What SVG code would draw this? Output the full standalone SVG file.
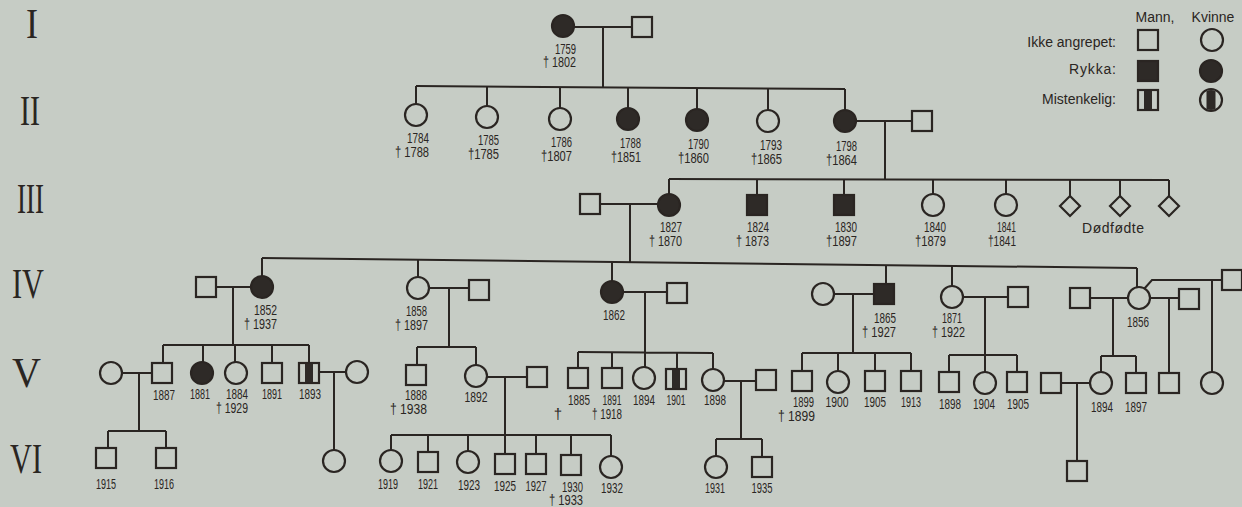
<svg xmlns="http://www.w3.org/2000/svg" width="1242" height="507" viewBox="0 0 1242 507">
<style>
.ln{fill:none;stroke:#2a2522;stroke-width:2}
.o{fill:#c6ccc5;stroke:#2a2522;stroke-width:2.2}
.f{fill:#2e2a27;stroke:#2a2522;stroke-width:2.2}
.k{fill:#2e2a27}
.t{font-family:"Liberation Sans",Arial,sans-serif;font-size:15px;fill:#2a2522}
.lg{font-family:"Liberation Sans",Arial,sans-serif;font-size:14px;fill:#2a2522}
.e{text-anchor:end}
.m{text-anchor:middle}
.r{font-family:"Liberation Serif",serif;font-size:42px;fill:#2a2522}
</style>
<defs>
<rect id="sq" x="-10" y="-10" width="20" height="20" class="o"/>
<rect id="sqf" x="-10" y="-10" width="20" height="20" class="f"/>
<circle id="ci" r="11" class="o"/>
<circle id="cif" r="11" class="f"/>
<path id="dm" d="M0,-10 L10,0 L0,10 L-10,0 Z" class="o"/>
<g id="sqm"><rect x="-10" y="-10" width="20" height="20" class="o"/><rect x="-4" y="-9" width="8" height="18" class="k"/></g>
<g id="cim"><circle r="11" class="o"/><path d="M-4.5,-8.9 A10,10 0 0 1 4.5,-8.9 V8.9 A10,10 0 0 1 -4.5,8.9 Z" class="k"/></g>
</defs>
<rect width="1242" height="507" fill="#c6ccc5"/>

<g id="generations">
<text class="r" x="26" y="38" textLength="12" lengthAdjust="spacingAndGlyphs">I</text>
<text class="r" x="20" y="125" textLength="20" lengthAdjust="spacingAndGlyphs">II</text>
<text class="r" x="17" y="213" textLength="27" lengthAdjust="spacingAndGlyphs">III</text>
<text class="r" x="12" y="298" textLength="32" lengthAdjust="spacingAndGlyphs">IV</text>
<text class="r" x="12" y="387" textLength="29" lengthAdjust="spacingAndGlyphs">V</text>
<text class="r" x="10" y="473" textLength="32" lengthAdjust="spacingAndGlyphs">VI</text>
</g>

<g id="legend">
<text class="lg m" x="1155" y="22">Mann,</text>
<text class="lg m" x="1213" y="22">Kvinne</text>
<text class="lg e" x="1116" y="47">Ikke angrepet:</text>
<text class="lg e" x="1116" y="74" textLength="47" lengthAdjust="spacing">Rykka:</text>
<text class="lg e" x="1116" y="104">Mistenkelig:</text>
<use href="#sq" x="1148" y="40"/>
<use href="#ci" x="1212" y="40"/>
<use href="#sqf" x="1148" y="71"/>
<use href="#cif" x="1211" y="71"/>
<use href="#sqm" x="1148" y="100"/>
<use href="#cim" x="1211" y="100"/>
</g>

<g id="connectors" class="ln">
<path d="M574,27 H632 M603,27 V87"/>
<path d="M416,86 L845,89"/>
<path d="M416,86 V104 M487,86.5 V106 M560,87 V108 M628,87.5 V108 M697,88 V109 M768,88.5 V110 M845,89 V110"/>
<path d="M856,121 H912 M885,121 V179"/>
<path d="M669,179 L1169,180"/>
<path d="M669,179 V194 M757,179 V195 M844,179.5 V195 M933,179.5 V194 M1006,179.5 V194 M1070,180 V196 M1120,180 V196 M1169,180 V196"/>
<path d="M600,204 H658 M630,204 V262"/>
<path d="M262,258 L1137,268"/>
<path d="M262,258 V276 M418,260 V277 M612,262 V281 M886,265 V284 M952,266 V286 M1137,268 V287"/>
<path d="M216,287 H251 M233,287 V345 M163,345 H309"/>
<path d="M163,345 V363 M203,345 V362 M235,345 V362 M272,345 V363 M309,345 V363"/>
<path d="M122,373 H152 M139,373 V431 M108,431 H166 M108,431 V448 M166,431 V448"/>
<path d="M319,372 H346 M334,372 V450"/>
<path d="M429,288 H469 M449,288 V347 M417,347 H476 M417,347 V365 M476,347 V365"/>
<path d="M487,377 H527 M505,377 V454 M391,435 H611"/>
<path d="M391,435 V450 M428,435 V452 M468,435 V451 M536,435 V454 M571,435 V455 M611,435 V456"/>
<path d="M623,292 H667 M645,292 V367 M578,352 L713,353"/>
<path d="M578,352 V368 M612,352 V368 M677,353 V369 M713,353 V369"/>
<path d="M724,381 H756 M741,381 V439 M716,439 H762 M716,439 V456 M762,439 V457"/>
<path d="M834,294 H874 M853,294 V353 M802,353 H911"/>
<path d="M802,353 V371 M838,353 V371 M875,353 V371 M911,353 V371"/>
<path d="M963,297 H1008 M985,297 V372 M949,355 H1017 M949,355 V372 M1017,355 V372"/>
<path d="M1090,298 H1128 M1113,298 V356 M1101,356 H1136 M1101,356 V372 M1136,356 V373"/>
<path d="M1061,383 H1090 M1077,383 V462"/>
<path d="M1150,298 H1179 M1169,298 V373"/>
<path d="M1144,289 L1152,280 H1222 M1212,280 V372"/>
</g>

<g id="gen1">
<g id="n1759"><use href="#cif" x="563" y="26"/><text class="t e" x="576" y="54" textLength="21" lengthAdjust="spacingAndGlyphs">1759</text><text class="t e" x="576" y="67" textLength="33" lengthAdjust="spacingAndGlyphs">† 1802</text></g>
<g id="n1759m"><use href="#sq" x="642" y="27"/></g>
</g>

<g id="gen2">
<g id="n1784"><use href="#ci" x="416" y="115"/><text class="t e" x="429" y="143" textLength="22" lengthAdjust="spacingAndGlyphs">1784</text><text class="t e" x="429" y="157" textLength="34" lengthAdjust="spacingAndGlyphs">† 1788</text></g>
<g id="n1785"><use href="#ci" x="487" y="117"/><text class="t e" x="499" y="145" textLength="21" lengthAdjust="spacingAndGlyphs">1785</text><text class="t e" x="499" y="159" textLength="31" lengthAdjust="spacingAndGlyphs">†1785</text></g>
<g id="n1786"><use href="#ci" x="560" y="119"/><text class="t e" x="572" y="147" textLength="21" lengthAdjust="spacingAndGlyphs">1786</text><text class="t e" x="572" y="161" textLength="31" lengthAdjust="spacingAndGlyphs">†1807</text></g>
<g id="n1788"><use href="#cif" x="628" y="119"/><text class="t e" x="641" y="148" textLength="21" lengthAdjust="spacingAndGlyphs">1788</text><text class="t e" x="641" y="162" textLength="30" lengthAdjust="spacingAndGlyphs">†1851</text></g>
<g id="n1790"><use href="#cif" x="697" y="120"/><text class="t e" x="709" y="149" textLength="21" lengthAdjust="spacingAndGlyphs">1790</text><text class="t e" x="709" y="163" textLength="31" lengthAdjust="spacingAndGlyphs">†1860</text></g>
<g id="n1793"><use href="#ci" x="768" y="121"/><text class="t e" x="782" y="150" textLength="22" lengthAdjust="spacingAndGlyphs">1793</text><text class="t e" x="782" y="164" textLength="31" lengthAdjust="spacingAndGlyphs">†1865</text></g>
<g id="n1798"><use href="#cif" x="845" y="121"/><text class="t e" x="857" y="151" textLength="21" lengthAdjust="spacingAndGlyphs">1798</text><text class="t e" x="857" y="165" textLength="31" lengthAdjust="spacingAndGlyphs">†1864</text></g>
<g id="n1798m"><use href="#sq" x="922" y="121"/></g>
</g>

<g id="gen3">
<g id="n1827m"><use href="#sq" x="590" y="204"/></g>
<g id="n1827"><use href="#cif" x="669" y="205"/><text class="t e" x="682" y="232" textLength="22" lengthAdjust="spacingAndGlyphs">1827</text><text class="t e" x="682" y="246" textLength="33" lengthAdjust="spacingAndGlyphs">† 1870</text></g>
<g id="n1824"><use href="#sqf" x="757" y="205"/><text class="t e" x="769" y="232" textLength="22" lengthAdjust="spacingAndGlyphs">1824</text><text class="t e" x="769" y="246" textLength="33" lengthAdjust="spacingAndGlyphs">† 1873</text></g>
<g id="n1830"><use href="#sqf" x="844" y="205"/><text class="t e" x="857" y="232" textLength="22" lengthAdjust="spacingAndGlyphs">1830</text><text class="t e" x="857" y="246" textLength="31" lengthAdjust="spacingAndGlyphs">†1897</text></g>
<g id="n1840"><use href="#ci" x="933" y="205"/><text class="t e" x="946" y="232" textLength="22" lengthAdjust="spacingAndGlyphs">1840</text><text class="t e" x="946" y="246" textLength="31" lengthAdjust="spacingAndGlyphs">†1879</text></g>
<g id="n1841"><use href="#ci" x="1006" y="205"/><text class="t e" x="1016" y="232" textLength="19" lengthAdjust="spacingAndGlyphs">1841</text><text class="t e" x="1016" y="246" textLength="28" lengthAdjust="spacingAndGlyphs">†1841</text></g>
<g id="stillborn"><use href="#dm" x="1070" y="206"/><use href="#dm" x="1120" y="206"/><use href="#dm" x="1169" y="206"/><text class="lg m" x="1113" y="233" textLength="62" lengthAdjust="spacing">Dødfødte</text></g>
</g>

<g id="gen4">
<g id="n1852m"><use href="#sq" x="206" y="287"/></g>
<g id="n1852"><use href="#cif" x="262" y="287"/><text class="t e" x="277" y="315" textLength="23" lengthAdjust="spacingAndGlyphs">1852</text><text class="t e" x="277" y="329" textLength="33" lengthAdjust="spacingAndGlyphs">† 1937</text></g>
<g id="n1858"><use href="#ci" x="418" y="288"/><text class="t e" x="427" y="316" textLength="21" lengthAdjust="spacingAndGlyphs">1858</text><text class="t e" x="428" y="330" textLength="33" lengthAdjust="spacingAndGlyphs">† 1897</text></g>
<g id="n1858m"><use href="#sq" x="479" y="290"/></g>
<g id="n1862"><use href="#cif" x="612" y="292"/><text class="t m" x="614" y="320" textLength="22" lengthAdjust="spacingAndGlyphs">1862</text></g>
<g id="n1862m"><use href="#sq" x="677" y="293"/></g>
<g id="n1865w"><use href="#ci" x="823" y="294"/></g>
<g id="n1865"><use href="#sqf" x="884" y="294"/><text class="t e" x="896" y="323" textLength="22" lengthAdjust="spacingAndGlyphs">1865</text><text class="t e" x="896" y="337" textLength="34" lengthAdjust="spacingAndGlyphs">† 1927</text></g>
<g id="n1871"><use href="#ci" x="952" y="297"/><text class="t e" x="962" y="323" textLength="20" lengthAdjust="spacingAndGlyphs">1871</text><text class="t e" x="965" y="337" textLength="33" lengthAdjust="spacingAndGlyphs">† 1922</text></g>
<g id="n1871m"><use href="#sq" x="1018" y="297"/></g>
<g id="n1856m1"><use href="#sq" x="1080" y="298"/></g>
<g id="n1856"><use href="#ci" x="1139" y="298"/><text class="t m" x="1138" y="327" textLength="22" lengthAdjust="spacingAndGlyphs">1856</text></g>
<g id="n1856m2"><use href="#sq" x="1189" y="299"/></g>
<g id="n1856m3"><use href="#sq" x="1232" y="280"/></g>
</g>

<g id="gen5">
<g id="n1887w"><use href="#ci" x="111" y="373"/></g>
<g id="n1887"><use href="#sq" x="162" y="373"/><text class="t m" x="164" y="400" textLength="22" lengthAdjust="spacingAndGlyphs">1887</text></g>
<g id="n1881"><use href="#cif" x="202" y="373"/><text class="t m" x="200" y="399" textLength="20" lengthAdjust="spacingAndGlyphs">1881</text></g>
<g id="n1884"><use href="#ci" x="236" y="373"/><text class="t e" x="248" y="399" textLength="22" lengthAdjust="spacingAndGlyphs">1884</text><text class="t e" x="248" y="413" textLength="32" lengthAdjust="spacingAndGlyphs">† 1929</text></g>
<g id="n1891a"><use href="#sq" x="272" y="373"/><text class="t m" x="272" y="399" textLength="20" lengthAdjust="spacingAndGlyphs">1891</text></g>
<g id="n1893"><use href="#sqm" x="309" y="373"/><text class="t m" x="310" y="399" textLength="22" lengthAdjust="spacingAndGlyphs">1893</text></g>
<g id="n1893w"><use href="#ci" x="357" y="372"/></g>
<g id="n1888"><use href="#sq" x="416" y="375"/><text class="t m" x="416" y="400" textLength="22" lengthAdjust="spacingAndGlyphs">1888</text><text class="t e" x="427" y="414" textLength="37" lengthAdjust="spacingAndGlyphs">† 1938</text></g>
<g id="n1892"><use href="#ci" x="476" y="376"/><text class="t m" x="476" y="402" textLength="23" lengthAdjust="spacingAndGlyphs">1892</text></g>
<g id="n1892m"><use href="#sq" x="537" y="377"/></g>
<g id="n1885"><use href="#sq" x="578" y="378"/><text class="t m" x="579" y="405" textLength="22" lengthAdjust="spacingAndGlyphs">1885</text><text class="t m" x="558" y="419">†</text></g>
<g id="n1891b"><use href="#sq" x="612" y="378"/><text class="t m" x="612" y="405" textLength="19" lengthAdjust="spacingAndGlyphs">1891</text><text class="t e" x="622" y="419" textLength="30" lengthAdjust="spacingAndGlyphs">† 1918</text></g>
<g id="n1894a"><use href="#ci" x="644" y="378"/><text class="t m" x="644" y="405" textLength="22" lengthAdjust="spacingAndGlyphs">1894</text></g>
<g id="n1901"><use href="#sqm" x="676" y="379"/><text class="t m" x="676" y="405" textLength="19" lengthAdjust="spacingAndGlyphs">1901</text></g>
<g id="n1898a"><use href="#ci" x="713" y="380"/><text class="t m" x="715" y="405" textLength="22" lengthAdjust="spacingAndGlyphs">1898</text></g>
<g id="n1898am"><use href="#sq" x="766" y="380"/></g>
<g id="n1899"><use href="#sq" x="802" y="381"/><text class="t e" x="814" y="407" textLength="21" lengthAdjust="spacingAndGlyphs">1899</text><text class="t e" x="815" y="421" textLength="37" lengthAdjust="spacingAndGlyphs">† 1899</text></g>
<g id="n1900"><use href="#ci" x="838" y="382"/><text class="t m" x="837" y="407" textLength="23" lengthAdjust="spacingAndGlyphs">1900</text></g>
<g id="n1905a"><use href="#sq" x="875" y="381"/><text class="t m" x="875" y="407" textLength="22" lengthAdjust="spacingAndGlyphs">1905</text></g>
<g id="n1913"><use href="#sq" x="911" y="381"/><text class="t m" x="911" y="407" textLength="20" lengthAdjust="spacingAndGlyphs">1913</text></g>
<g id="n1898b"><use href="#sq" x="949" y="382"/><text class="t m" x="950" y="409" textLength="22" lengthAdjust="spacingAndGlyphs">1898</text></g>
<g id="n1904"><use href="#ci" x="985" y="383"/><text class="t m" x="984" y="409" textLength="22" lengthAdjust="spacingAndGlyphs">1904</text></g>
<g id="n1905b"><use href="#sq" x="1017" y="382"/><text class="t m" x="1018" y="409" textLength="22" lengthAdjust="spacingAndGlyphs">1905</text></g>
<g id="n1894bm"><use href="#sq" x="1051" y="383"/></g>
<g id="n1894b"><use href="#ci" x="1101" y="383"/><text class="t m" x="1102" y="412" textLength="22" lengthAdjust="spacingAndGlyphs">1894</text></g>
<g id="n1897"><use href="#sq" x="1136" y="383"/><text class="t m" x="1136" y="412" textLength="22" lengthAdjust="spacingAndGlyphs">1897</text></g>
<g id="n1856c2"><use href="#sq" x="1169" y="383"/></g>
<g id="n1856c3"><use href="#ci" x="1212" y="383"/></g>
</g>

<g id="gen6">
<g id="n1915"><use href="#sq" x="106" y="458"/><text class="t m" x="106" y="489" textLength="20" lengthAdjust="spacingAndGlyphs">1915</text></g>
<g id="n1916"><use href="#sq" x="166" y="458"/><text class="t m" x="164" y="489" textLength="20" lengthAdjust="spacingAndGlyphs">1916</text></g>
<g id="n1893c"><use href="#ci" x="334" y="461"/></g>
<g id="n1919"><use href="#ci" x="391" y="461"/><text class="t m" x="388" y="489" textLength="20" lengthAdjust="spacingAndGlyphs">1919</text></g>
<g id="n1921"><use href="#sq" x="428" y="462"/><text class="t m" x="428" y="489" textLength="20" lengthAdjust="spacingAndGlyphs">1921</text></g>
<g id="n1923"><use href="#ci" x="468" y="462"/><text class="t m" x="469" y="490" textLength="22" lengthAdjust="spacingAndGlyphs">1923</text></g>
<g id="n1925"><use href="#sq" x="505" y="464"/><text class="t m" x="505" y="491" textLength="22" lengthAdjust="spacingAndGlyphs">1925</text></g>
<g id="n1927"><use href="#sq" x="536" y="464"/><text class="t m" x="536" y="491" textLength="21" lengthAdjust="spacingAndGlyphs">1927</text></g>
<g id="n1930"><use href="#sq" x="571" y="465"/><text class="t e" x="583" y="492" textLength="21" lengthAdjust="spacingAndGlyphs">1930</text><text class="t e" x="583" y="505" textLength="34" lengthAdjust="spacingAndGlyphs">† 1933</text></g>
<g id="n1932"><use href="#ci" x="611" y="467"/><text class="t m" x="612" y="493" textLength="22" lengthAdjust="spacingAndGlyphs">1932</text></g>
<g id="n1931"><use href="#ci" x="716" y="467"/><text class="t m" x="715" y="493" textLength="20" lengthAdjust="spacingAndGlyphs">1931</text></g>
<g id="n1935"><use href="#sq" x="762" y="467"/><text class="t m" x="762" y="493" textLength="21" lengthAdjust="spacingAndGlyphs">1935</text></g>
<g id="n1894bc"><use href="#sq" x="1077" y="471"/></g>
</g>
</svg>
